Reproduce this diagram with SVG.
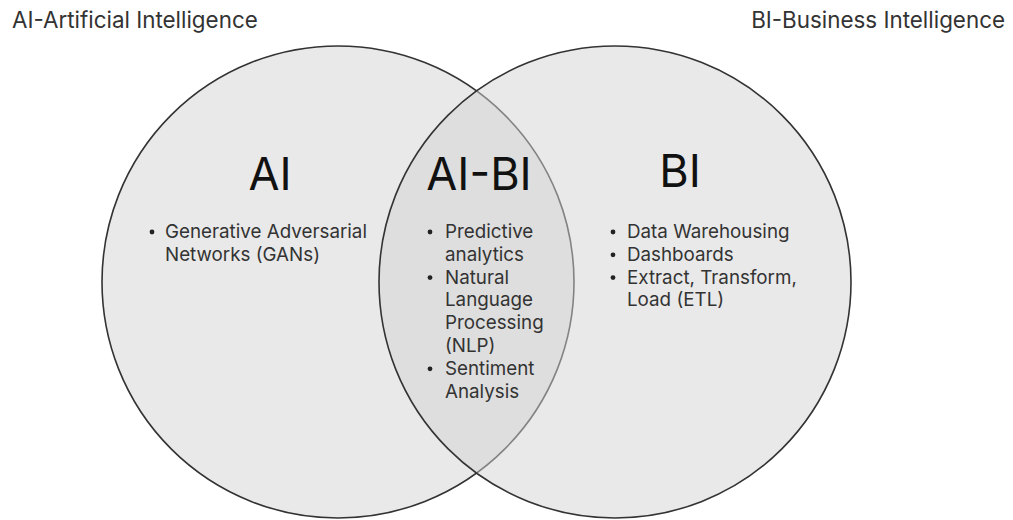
<svg xmlns="http://www.w3.org/2000/svg" width="1013" height="520" viewBox="0 0 1013 520">
  <style>
    .set { fill: #d3d3d3; fill-opacity: 0.5; stroke: #333333; stroke-width: 1.6; }
    .title { font-family: Inter, "Liberation Sans", sans-serif; font-size: 22.4px; fill: #333333; }
    .big { font-family: Inter, "Liberation Sans", sans-serif; font-size: 45px; fill: #111111; text-anchor: middle; }
    .item { font-family: Inter, "Liberation Sans", sans-serif; font-size: 18.8px; fill: #333333; }
    .dot { fill: #222222; }
  </style>

  <!-- headings -->
  <text class="title" x="12" y="28">AI-Artificial Intelligence</text>
  <text class="title" x="1005" y="28" text-anchor="end">BI-Business Intelligence</text>

  <!-- set circles -->
  <g id="set-ai">
    <circle class="set" cx="338" cy="282" r="236"/>
  </g>
  <g id="set-bi">
    <circle class="set" cx="615" cy="282" r="236"/>
  </g>

  <!-- AI only -->
  <g id="label-ai">
    <text class="big" x="270" y="190">AI</text>
    <circle class="dot" cx="152" cy="232" r="2.4"/>
    <text class="item" x="165" y="238">Generative Adversarial</text>
    <text class="item" x="165" y="260.8">Networks (GANs)</text>
  </g>

  <!-- overlap -->
  <g id="label-ai-bi">
    <text class="big" x="479" y="190">AI-BI</text>
    <circle class="dot" cx="430" cy="232" r="2.4"/>
    <text class="item" x="445" y="238">Predictive</text>
    <text class="item" x="445" y="260.8">analytics</text>
    <circle class="dot" cx="430" cy="277.6" r="2.4"/>
    <text class="item" x="445" y="283.6">Natural</text>
    <text class="item" x="445" y="306.4">Language</text>
    <text class="item" x="445" y="329.2">Processing</text>
    <text class="item" x="445" y="352">(NLP)</text>
    <circle class="dot" cx="430" cy="368.8" r="2.4"/>
    <text class="item" x="445" y="374.8">Sentiment</text>
    <text class="item" x="445" y="397.6">Analysis</text>
  </g>

  <!-- BI only -->
  <g id="label-bi">
    <text class="big" x="680" y="187">BI</text>
    <circle class="dot" cx="613" cy="232" r="2.4"/>
    <text class="item" x="627" y="238">Data Warehousing</text>
    <circle class="dot" cx="613" cy="254.8" r="2.4"/>
    <text class="item" x="627" y="260.8">Dashboards</text>
    <circle class="dot" cx="613" cy="277.6" r="2.4"/>
    <text class="item" x="627" y="283.6">Extract, Transform,</text>
    <text class="item" x="627" y="306.4">Load (ETL)</text>
  </g>
</svg>
